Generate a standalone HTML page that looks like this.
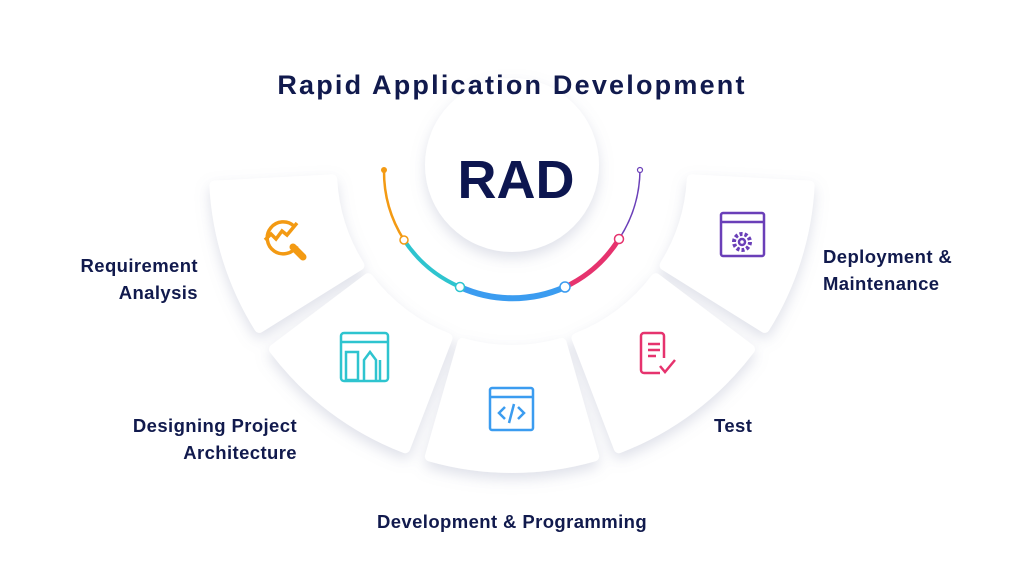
<!DOCTYPE html>
<html><head><meta charset="utf-8"><style>
html,body{margin:0;padding:0;background:#fff;}
body{width:1024px;height:567px;overflow:hidden;position:relative;font-family:"Liberation Sans",sans-serif;}
.t{position:absolute;color:#111a4d;font-weight:bold;font-size:18.5px;line-height:27px;letter-spacing:0.4px;white-space:nowrap;}
</style></head><body>
<svg width="1024" height="567" style="position:absolute;left:0;top:0">
<defs>
<filter id="sh" x="-30%" y="-30%" width="160%" height="160%">
<feDropShadow dx="0" dy="6" stdDeviation="7" flood-color="#8890b0" flood-opacity="0.28"/>
</filter>
</defs>
<g id="segs" fill="#fff" filter="url(#sh)" stroke="#fff" stroke-width="10" stroke-linejoin="round"></g>
<circle cx="512" cy="165" r="87" fill="#fff" filter="url(#sh)"/>
<g fill="none" stroke-linecap="round">
<path d="M384,170 A128,128 0 0 0 404,240" stroke="#f39a13" stroke-width="2.5"/>
<path d="M404,240 A128,128 0 0 0 460,287" stroke="#2ec4cf" stroke-width="4"/>
<path d="M460,287 A128,128 0 0 0 565,287" stroke="#3b9cf0" stroke-width="6"/>
<path d="M565,287 A128,128 0 0 0 619,239" stroke="#e6336e" stroke-width="5"/>
<path d="M619,239 A128,128 0 0 0 640,170" stroke="#6a3fb8" stroke-width="1.5"/>
</g>
<circle cx="384" cy="170" r="3" fill="#f39a13"/>
<circle cx="640" cy="170" r="2.5" fill="#fff" stroke="#6a3fb8" stroke-width="1.2"/>
<circle cx="404" cy="240" r="4" fill="#fff" stroke="#f39a13" stroke-width="1.5"/>
<circle cx="460" cy="287" r="4.5" fill="#fff" stroke="#2ec4cf" stroke-width="1.5"/>
<circle cx="565" cy="287" r="5" fill="#fff" stroke="#3b9cf0" stroke-width="1.5"/>
<circle cx="619" cy="239" r="4.5" fill="#fff" stroke="#e6336e" stroke-width="1.5"/>
<text x="516" y="198" text-anchor="middle" font-family="Liberation Sans" font-weight="bold" font-size="54" fill="#0d1650">RAD</text>
<text x="512" y="94" text-anchor="middle" font-family="Liberation Sans" font-weight="bold" font-size="27" fill="#111a4d" letter-spacing="2.2">Rapid Application Development</text>
<g fill="none" stroke="#f39a13" stroke-width="3.5">
<path d="M294,226 A16,16 0 1 0 297,246"/>
<path d="M265,240 l6,-6 5,5 6,-8 5,4 10,-12"/>
<path d="M293,247 l10,10" stroke-width="7" stroke-linecap="round"/>
</g>
<g fill="none" stroke="#2ec4cf" stroke-width="2.5">
<rect x="341" y="333" width="47" height="48" rx="3"/>
<line x1="341" y1="342" x2="388" y2="342"/>
<rect x="346" y="352" width="12" height="28"/>
<path d="M364,380 v-20 l6,-8 6,8 v20"/>
<line x1="380" y1="360" x2="380" y2="380"/>
</g>
<g fill="none" stroke="#3b9cf0" stroke-width="2.5">
<rect x="490" y="388" width="43" height="42" rx="2"/>
<line x1="490" y1="397" x2="533" y2="397"/>
<path d="M505,407 l-6,6 6,6 M518,407 l6,6 -6,6 M514,404 l-5,19"/>
</g>
<g fill="none" stroke="#e6336e" stroke-width="2.5">
<path d="M660,373 h-16 a3,3 0 0 1 -3,-3 v-34 a3,3 0 0 1 3,-3 h17 a3,3 0 0 1 3,3 v22"/>
<path d="M648,344 h12 M648,350 h12 M648,356 h8"/>
<path d="M660,366 l5,6 10,-12"/>
</g>
<g fill="none" stroke="#6a3fb8" stroke-width="2.5">
<rect x="721" y="213" width="43" height="43" rx="2"/>
<line x1="721" y1="222" x2="764" y2="222"/>
<circle cx="742" cy="242" r="8" stroke-dasharray="3 2" stroke-width="4"/>
<circle cx="742" cy="242" r="3"/>
</g>
</svg>
<div class="t" style="left:40px;top:252px;width:158px;text-align:right">Requirement<br>Analysis</div>
<div class="t" style="left:97px;top:412px;width:200px;text-align:right">Designing Project<br>Architecture</div>
<div class="t" style="left:312px;top:508px;width:400px;text-align:center">Development &amp; Programming</div>
<div class="t" style="left:714px;top:412px">Test</div>
<div class="t" style="left:823px;top:243px">Deployment &amp;<br>Maintenance</div>
<script>
(function(){
var cx=512,cy=170,R=298,r=180,g=document.getElementById('segs');
var segs=[[148,177],[111,143],[74,106],[37,69],[3,32]];
function p(a,rad){var t=a*Math.PI/180;return (cx+rad*Math.cos(t)).toFixed(1)+','+(cy+rad*Math.sin(t)).toFixed(1);}
segs.forEach(function(s){
var d='M'+p(s[1],r)+' L'+p(s[1],R)+' A'+R+','+R+' 0 0 0 '+p(s[0],R)+' L'+p(s[0],r)+' A'+r+','+r+' 0 0 1 '+p(s[1],r)+'Z';
var e=document.createElementNS('http://www.w3.org/2000/svg','path');e.setAttribute('d',d);g.appendChild(e);
});
})();
</script>
</body></html>
